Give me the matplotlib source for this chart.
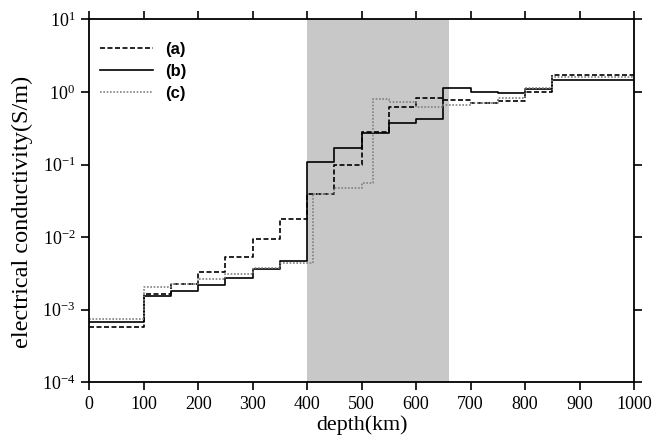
import numpy as np
import matplotlib
matplotlib.use("Agg")
import matplotlib.pyplot as plt
from matplotlib.ticker import NullLocator, LogLocator

# conductivity models (S/m) vs depth (km), piecewise constant
a_depth = [0, 100, 150, 200, 250, 300, 350, 400, 450, 500, 550, 600, 650, 700, 750, 800, 850, 1000]
a_sigma = [5.8e-4, 1.64e-3, 2.24e-3, 3.3e-3, 5.26e-3, 9.3e-3, 1.77e-2, 0.0396, 0.10, 0.283,
           0.625, 0.83, 0.77, 0.70, 0.76, 1.0, 1.71]

b_depth = [0, 100, 150, 200, 250, 300, 350, 400, 450, 500, 550, 600, 650, 700, 750, 800, 850, 1000]
b_sigma = [6.8e-4, 1.56e-3, 1.83e-3, 2.19e-3, 2.76e-3, 3.6e-3, 4.68e-3, 0.107, 0.167, 0.27,
           0.37, 0.42, 1.14, 1.0, 0.975, 1.1, 1.46]

c_depth = [0, 100, 150, 200, 250, 300, 350, 410, 450, 500, 520, 550, 600, 650, 700, 750, 800, 850, 1000]
c_sigma = [7.4e-4, 2.03e-3, 2.25e-3, 2.65e-3, 3.1e-3, 3.75e-3, 4.47e-3, 0.039, 0.047, 0.056,
           0.80, 0.73, 0.625, 0.67, 0.70, 0.82, 1.12, 1.62]

labels = ["(a)", "(b)", "(c)"]
tz = (400, 660)  # transition zone shading

plt.rcParams['mathtext.fontset'] = 'stix'
plt.rcParams['font.family'] = 'Liberation Serif'

fig = plt.figure(figsize=(6.66, 4.4), dpi=100)
ax = fig.add_axes([0.134, 0.131, 0.818, 0.825])

ax.axvspan(tz[0], tz[1], color='#c8c8c8', lw=0, zorder=0)

def stepline(d, s, **kw):
    ax.step(d, list(s) + [s[-1]], where='post', **kw)

stepline(a_depth, a_sigma, color='black', lw=1.2, ls=(0, (3, 1.5)), label=labels[0])
stepline(b_depth, b_sigma, color='black', lw=1.2, ls='-', label=labels[1])
stepline(c_depth, c_sigma, color='#808080', lw=1.2, ls=(0, (1, 1)), label=labels[2])

ax.set_yscale('log')
ax.set_xlim(0, 1000)
ax.set_ylim(1e-4, 10)
ax.set_xticks(np.arange(0, 1001, 100))
ax.yaxis.set_major_locator(LogLocator(base=10, numticks=10))
ax.yaxis.set_minor_locator(NullLocator())
ax.tick_params(direction='out', length=6, width=1.2, top=True, right=True,
               labelsize=13, pad=4)
for sp in ax.spines.values():
    sp.set_linewidth(1.3)

ax.set_xlabel("depth(km)", fontsize=15.8)
ax.set_ylabel("electrical conductivity(S/m)", fontsize=17.5)
ax.xaxis.set_label_coords(0.5, -0.09)
ax.yaxis.set_label_coords(-0.103, 0.469)

leg = ax.legend(loc='upper left', frameon=False, handlelength=3.2, handletextpad=0.72,
                labelspacing=0.42, borderpad=0, borderaxespad=0,
                bbox_to_anchor=(0.0196, 0.937),
                prop={'family': 'Liberation Sans', 'weight': 'bold', 'size': 12})

fig.savefig("out.png", dpi=100)
